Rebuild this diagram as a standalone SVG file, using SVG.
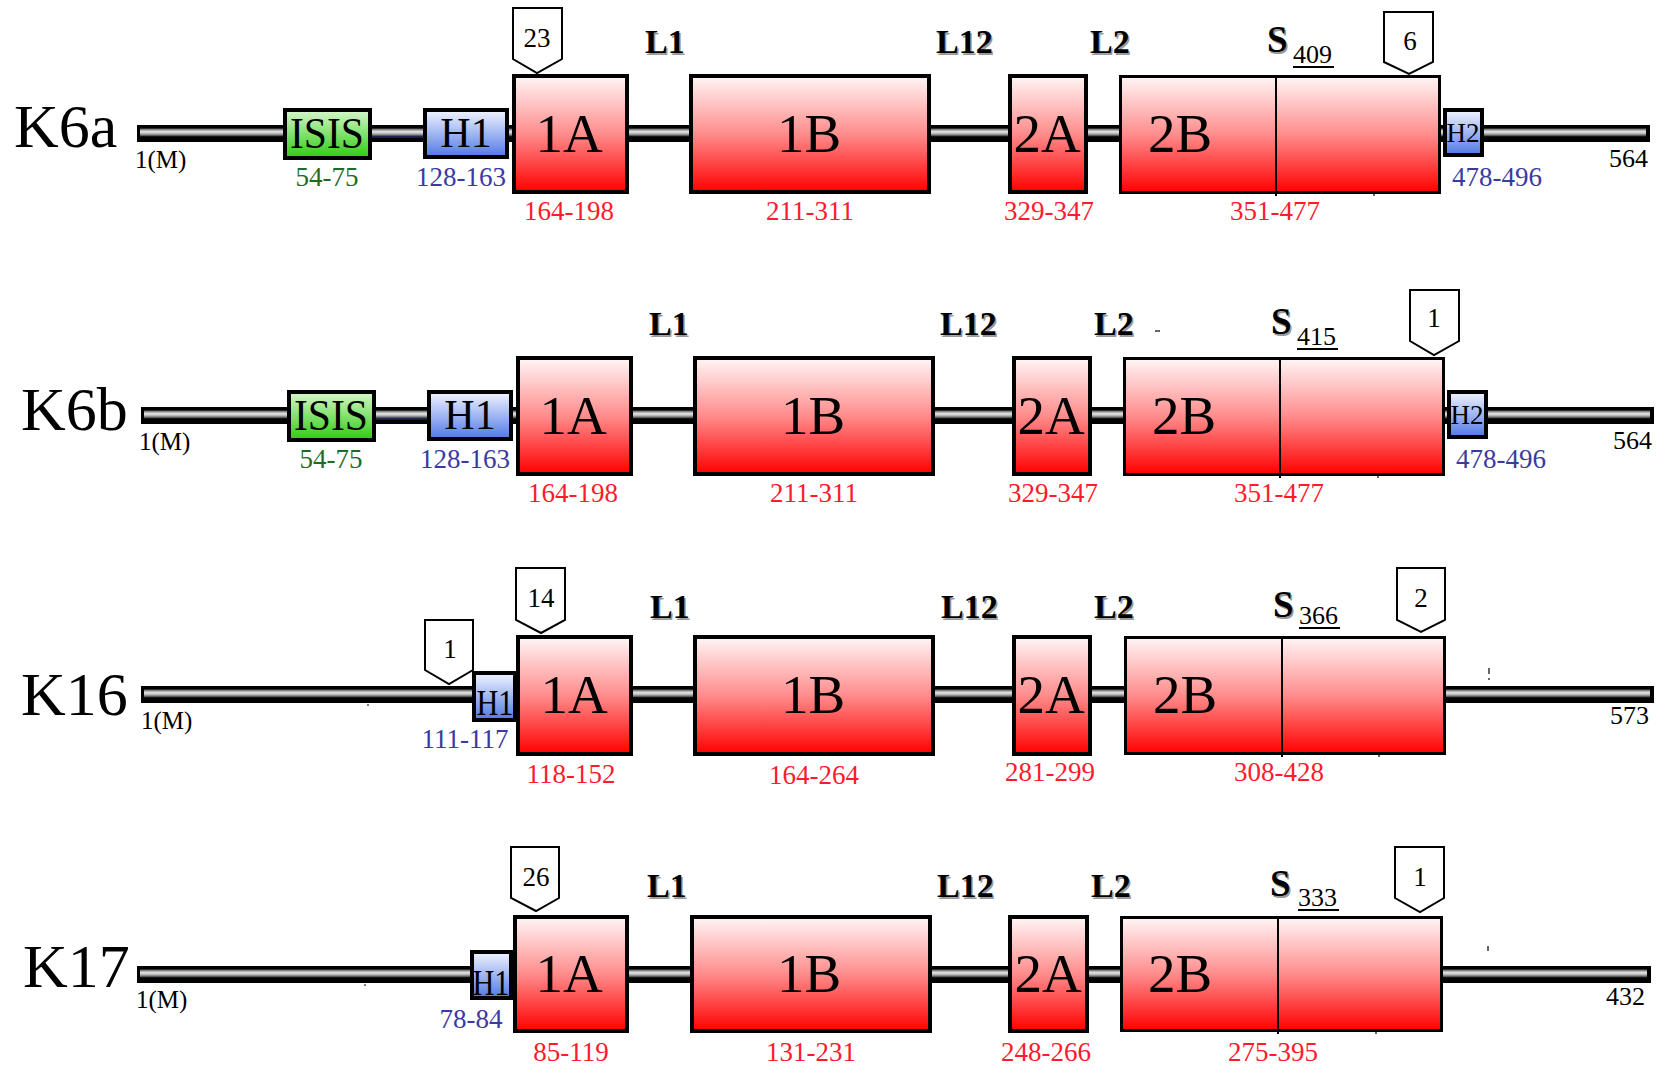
<svg xmlns="http://www.w3.org/2000/svg" width="1657" height="1065" viewBox="0 0 1657 1065">
<defs>
<linearGradient id="gRed" x1="0" y1="0" x2="0" y2="1"><stop offset="0" stop-color="#fff6f6"/><stop offset="0.5" stop-color="#ff8c8c"/><stop offset="1" stop-color="#ff0000"/></linearGradient>
<linearGradient id="gGreen" x1="0" y1="0" x2="0" y2="1"><stop offset="0" stop-color="#d6f7cc"/><stop offset="1" stop-color="#2dcc0f"/></linearGradient>
<linearGradient id="gBlue" x1="0" y1="0" x2="0" y2="1"><stop offset="0" stop-color="#f2f5ff"/><stop offset="1" stop-color="#4f78e6"/></linearGradient>
<linearGradient id="gTube" x1="0" y1="0" x2="0" y2="1"><stop offset="0" stop-color="#5a5a5a"/><stop offset="0.4" stop-color="#e6e6e6"/><stop offset="0.65" stop-color="#b4b4b4"/><stop offset="1" stop-color="#2a2a2a"/></linearGradient>
</defs>
<style>
text{font-family:"Liberation Serif","Times New Roman",serif;}
.name{font-size:62px;fill:#000;}
.m{font-size:25px;fill:#000;}
.end{font-size:26px;fill:#000;text-anchor:end;}
.big{font-size:55px;fill:#000;text-anchor:middle;}
.sm{text-anchor:middle;fill:#000;}
.red{font-size:27px;fill:#ff1a2c;text-anchor:middle;}
.blu{font-size:27px;fill:#3a3aa2;text-anchor:middle;}
.grn{font-size:27px;fill:#1f6b1f;text-anchor:middle;}
.L{font-size:34px;font-weight:bold;fill:#000;}
.Lsh{font-size:34px;font-weight:bold;fill:#9a9a9a;}
.S{font-size:37px;font-weight:bold;fill:#000;}
.Ssh{font-size:37px;font-weight:bold;fill:#9a9a9a;}
.Sn{font-size:26px;fill:#000;}
.pn{font-size:27px;fill:#000;text-anchor:middle;}
.rb{fill:url(#gRed);stroke:#000;stroke-width:4;}
.rb2{fill:url(#gRed);stroke:#000;stroke-width:3;}
.gb{fill:url(#gGreen);stroke:#000;stroke-width:4;}
.bb{fill:url(#gBlue);stroke:#000;stroke-width:4;}
.pent{fill:#fff;stroke:#000;stroke-width:2;}
.div{stroke:#000;stroke-width:2;}
.ul{stroke:#000;stroke-width:2;}
.outer{fill:#000;}
.inner{fill:url(#gTube);}
.thin{stroke:#2a3a8a;stroke-width:1.2;}
.mark{stroke:#000;stroke-width:1.2;}
</style>

<g id="connectors">
<rect class="outer" x="137" y="125" width="1513" height="17"/><rect class="inner" x="140" y="128.5" width="1506" height="8"/>
<line class="thin" x1="372" y1="137" x2="423" y2="137"/>
<rect class="outer" x="141" y="407" width="1513" height="17"/><rect class="inner" x="144" y="410.5" width="1506" height="8"/>
<line class="thin" x1="376" y1="419" x2="427" y2="419"/>
<rect class="outer" x="141" y="686" width="1513" height="17"/><rect class="inner" x="144" y="689.5" width="1506" height="8"/>
<rect class="outer" x="137" y="966" width="1514" height="17"/><rect class="inner" x="140" y="969.5" width="1507" height="8"/>
</g>

<g id="row-K6a">
<text class="name" x="14" y="147">K6a</text>
<text class="m" x="135" y="168">1(M)</text>
<g id="k6a-isis"><rect class="gb" x="285" y="110" width="85" height="48"/><text class="sm" x="327" y="148" font-size="45" textLength="74" lengthAdjust="spacingAndGlyphs">ISIS</text><text class="grn" x="327" y="186">54-75</text></g>
<g id="k6a-h1"><rect class="bb" x="425" y="110" width="82" height="47"/><text class="sm" x="466" y="147" font-size="42">H1</text><text class="blu" x="461" y="186">128-163</text></g>
<g id="k6a-1a"><rect class="rb" x="514" y="76" width="113" height="116"/><text class="big" x="569" y="152">1A</text><text class="red" x="569" y="220">164-198</text></g>
<g id="k6a-p23"><polygon class="pent" points="513,8 562,8 562,59 537,73 513,59"/><text class="pn" x="537" y="47">23</text></g>
<g id="k6a-1b"><rect class="rb" x="691" y="76" width="238" height="116"/><text class="big" x="809" y="152">1B</text><text class="red" x="810" y="220">211-311</text></g>
<g id="k6a-2a"><rect class="rb" x="1010" y="76" width="76" height="116"/><text class="big" x="1047" y="152">2A</text><text class="red" x="1049" y="220">329-347</text></g>
<g id="k6a-2b"><rect class="rb2" x="1120.5" y="76.5" width="319" height="116"/><line class="div" x1="1276" y1="77" x2="1276" y2="196"/><line class="mark" x1="1374" y1="192" x2="1374" y2="196"/><text class="big" x="1180" y="152">2B</text><text class="red" x="1275" y="220">351-477</text></g>
<g id="k6a-p6"><polygon class="pent" points="1384,12 1433,12 1433,62 1409,74 1384,62"/><text class="pn" x="1410" y="50">6</text></g>
<g id="k6a-h2"><rect class="bb" x="1445" y="110" width="37" height="45"/><text class="sm" x="1463" y="142" font-size="27">H2</text><text class="blu" x="1497" y="186">478-496</text></g>
<text class="end" x="1648" y="167">564</text>
<text class="Lsh" x="646.5" y="54.5">L1</text><text class="L" x="645" y="53">L1</text>
<text class="Lsh" x="937.5" y="54.5">L12</text><text class="L" x="936" y="53">L12</text>
<text class="Lsh" x="1091.5" y="54.5">L2</text><text class="L" x="1090" y="53">L2</text>
<text class="Ssh" x="1268.5" y="53.5">S</text><text class="S" x="1267" y="52">S</text>
<text class="Sn" x="1293" y="63">409</text><line class="ul" x1="1293" y1="67" x2="1334" y2="67"/>
</g>

<g id="row-K6b">
<text class="name" x="21" y="430">K6b</text>
<text class="m" x="139" y="450">1(M)</text>
<g id="k6b-isis"><rect class="gb" x="289" y="392" width="85" height="48"/><text class="sm" x="331" y="430" font-size="45" textLength="74" lengthAdjust="spacingAndGlyphs">ISIS</text><text class="grn" x="331" y="468">54-75</text></g>
<g id="k6b-h1"><rect class="bb" x="429" y="392" width="82" height="47"/><text class="sm" x="470" y="429" font-size="42">H1</text><text class="blu" x="465" y="468">128-163</text></g>
<g id="k6b-1a"><rect class="rb" x="518" y="358" width="113" height="116"/><text class="big" x="573" y="434">1A</text><text class="red" x="573" y="502">164-198</text></g>
<g id="k6b-1b"><rect class="rb" x="695" y="358" width="238" height="116"/><text class="big" x="813" y="434">1B</text><text class="red" x="814" y="502">211-311</text></g>
<g id="k6b-2a"><rect class="rb" x="1014" y="358" width="76" height="116"/><text class="big" x="1051" y="434">2A</text><text class="red" x="1053" y="502">329-347</text></g>
<g id="k6b-2b"><rect class="rb2" x="1124.5" y="358.5" width="319" height="116"/><line class="div" x1="1280" y1="359" x2="1280" y2="478"/><line class="mark" x1="1378" y1="474" x2="1378" y2="478"/><text class="big" x="1184" y="434">2B</text><text class="red" x="1279" y="502">351-477</text></g>
<g id="k6b-p1"><polygon class="pent" points="1410,290 1459,290 1459,341 1434,355 1410,341"/><text class="pn" x="1434" y="327">1</text></g>
<g id="k6b-h2"><rect class="bb" x="1449" y="392" width="37" height="45"/><text class="sm" x="1467" y="424" font-size="27">H2</text><text class="blu" x="1501" y="468">478-496</text></g>
<text class="end" x="1652" y="449">564</text>
<text class="Lsh" x="650.5" y="336.5">L1</text><text class="L" x="649" y="335">L1</text>
<text class="Lsh" x="941.5" y="336.5">L12</text><text class="L" x="940" y="335">L12</text>
<text class="Lsh" x="1095.5" y="336.5">L2</text><text class="L" x="1094" y="335">L2</text>
<line class="mark" x1="1155" y1="331" x2="1160" y2="331"/>
<text class="Ssh" x="1272.5" y="335.5">S</text><text class="S" x="1271" y="334">S</text>
<text class="Sn" x="1297" y="345">415</text><line class="ul" x1="1297" y1="349" x2="1338" y2="349"/>
</g>

<g id="row-K16">
<text class="name" x="21" y="715">K16</text>
<text class="m" x="141" y="729">1(M)</text>
<line class="mark" x1="367" y1="705" x2="369" y2="705"/>
<g id="k16-p1"><polygon class="pent" points="425,620 473,620 473,670 449,684 425,670"/><text class="pn" x="450" y="658">1</text></g>
<g id="k16-h1"><rect class="bb" x="474" y="673" width="41" height="47"/><text class="sm" x="495" y="715" font-size="35" textLength="37" lengthAdjust="spacingAndGlyphs">H1</text><text class="blu" x="465" y="748">111-117</text></g>
<g id="k16-1a"><rect class="rb" x="518" y="637" width="113" height="117"/><text class="big" x="574" y="713">1A</text><text class="red" x="571" y="783">118-152</text></g>
<g id="k16-p14"><polygon class="pent" points="516,568 565,568 565,620 541,633 516,620"/><text class="pn" x="541" y="607">14</text></g>
<g id="k16-1b"><rect class="rb" x="695" y="637" width="238" height="117"/><text class="big" x="813" y="713">1B</text><text class="red" x="814" y="784">164-264</text></g>
<g id="k16-2a"><rect class="rb" x="1014" y="637" width="76" height="117"/><text class="big" x="1051" y="713">2A</text><text class="red" x="1050" y="781">281-299</text></g>
<g id="k16-2b"><rect class="rb2" x="1125.5" y="637.5" width="319" height="116"/><line class="div" x1="1282" y1="638" x2="1282" y2="757"/><line class="mark" x1="1379" y1="753" x2="1379" y2="757"/><text class="big" x="1185" y="713">2B</text><text class="red" x="1279" y="781">308-428</text></g>
<g id="k16-p2"><polygon class="pent" points="1397,568 1445,568 1445,620 1421,632 1397,620"/><text class="pn" x="1421" y="607">2</text></g>
<line class="mark" x1="1489" y1="668" x2="1489" y2="674"/><line class="mark" x1="1489" y1="678" x2="1489" y2="680"/>
<text class="end" x="1649" y="724">573</text>
<text class="Lsh" x="651.5" y="619.5">L1</text><text class="L" x="650" y="618">L1</text>
<text class="Lsh" x="942.5" y="619.5">L12</text><text class="L" x="941" y="618">L12</text>
<text class="Lsh" x="1095.5" y="619.5">L2</text><text class="L" x="1094" y="618">L2</text>
<text class="Ssh" x="1274.5" y="618.5">S</text><text class="S" x="1273" y="617">S</text>
<text class="Sn" x="1299" y="624">366</text><line class="ul" x1="1299" y1="628" x2="1340" y2="628"/>
</g>

<g id="row-K17">
<text class="name" x="23" y="987">K17</text>
<text class="m" x="136" y="1008">1(M)</text>
<line class="mark" x1="364" y1="985" x2="366" y2="985"/>
<g id="k17-h1"><rect class="bb" x="472" y="952" width="39" height="46"/><text class="sm" x="491" y="995" font-size="35" textLength="37" lengthAdjust="spacingAndGlyphs">H1</text><text class="blu" x="471" y="1028">78-84</text></g>
<g id="k17-1a"><rect class="rb" x="515" y="917" width="112" height="114"/><text class="big" x="569" y="992">1A</text><text class="red" x="571" y="1061">85-119</text></g>
<g id="k17-p26"><polygon class="pent" points="511,847 559,847 559,898 536,911 511,898"/><text class="pn" x="536" y="886">26</text></g>
<g id="k17-1b"><rect class="rb" x="692" y="917" width="238" height="114"/><text class="big" x="809" y="992">1B</text><text class="red" x="811" y="1061">131-231</text></g>
<g id="k17-2a"><rect class="rb" x="1010" y="917" width="77" height="114"/><text class="big" x="1048" y="992">2A</text><text class="red" x="1046" y="1061">248-266</text></g>
<g id="k17-2b"><rect class="rb2" x="1121.5" y="917.5" width="320" height="113"/><line class="div" x1="1278" y1="918" x2="1278" y2="1034"/><line class="mark" x1="1376" y1="1030" x2="1376" y2="1034"/><text class="big" x="1180" y="992">2B</text><text class="red" x="1273" y="1061">275-395</text></g>
<g id="k17-p1"><polygon class="pent" points="1395,847 1444,847 1444,898 1420,912 1395,898"/><text class="pn" x="1420" y="886">1</text></g>
<line class="mark" x1="1488" y1="946" x2="1488" y2="951"/>
<text class="end" x="1645" y="1005">432</text>
<text class="Lsh" x="648.5" y="898.5">L1</text><text class="L" x="647" y="897">L1</text>
<text class="Lsh" x="938.5" y="898.5">L12</text><text class="L" x="937" y="897">L12</text>
<text class="Lsh" x="1092.5" y="898.5">L2</text><text class="L" x="1091" y="897">L2</text>
<text class="Ssh" x="1271.5" y="897.5">S</text><text class="S" x="1270" y="896">S</text>
<text class="Sn" x="1298" y="906">333</text><line class="ul" x1="1298" y1="910" x2="1339" y2="910"/>
</g>
</svg>
